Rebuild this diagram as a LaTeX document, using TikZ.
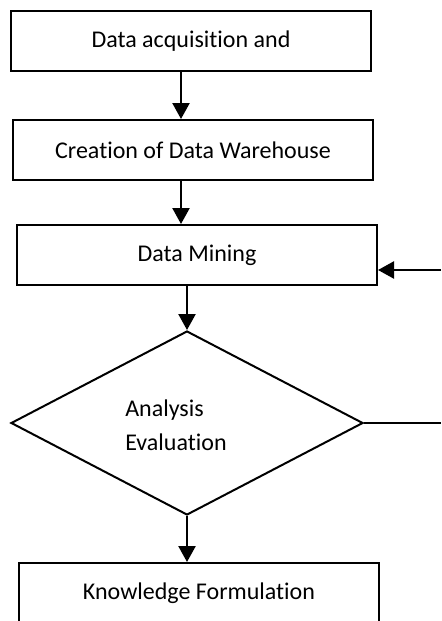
\documentclass[tikz,border=0pt]{standalone}
\usepackage{fontspec}
\setmainfont{Carlito}[Ligatures=NoCommon]
\usetikzlibrary{shapes.geometric,arrows.meta,positioning}

\begin{document}
\begin{tikzpicture}[x=0.5pt, y=-0.5pt,
  box/.style={rectangle, draw, line width=1pt, minimum width=180pt, minimum height=30pt},
  decision/.style={diamond, draw, line width=1pt, aspect=1.9, inner sep=0pt,
    minimum width=176pt, minimum height=92pt},
  arr/.style={-{Triangle[width=8.5pt,length=8pt]}, line width=1.2pt},
  node distance=54.5pt]
  \fontsize{12}{14.6}\selectfont
  \useasboundingbox (0,0) rectangle (441,621);
  \node[box] (acq) at (191,41) {Data acquisition and};
  \node[box, below of=acq, xshift=1pt] (dw) {Creation of Data Warehouse};
  \node[box, below of=dw, node distance=52.5pt, xshift=2pt] (dm) {Data Mining};
  \node[decision, below of=dm, node distance=84pt, xshift=-5pt] (eval)
    {\raisebox{-2.5pt}[\height][\depth]{\begin{tabular}{@{}l@{\hspace{11pt}}}Analysis\\[2.5pt]Evaluation\end{tabular}}};
  \node[box, below of=eval, node distance=85pt, xshift=6pt] (know) {Knowledge Formulation};
  \coordinate (fbin) at (441,270);
  \coordinate (fbout) at (441,423);

  \draw[arr] ([xshift=-5pt]acq.south) -- ([xshift=-5pt]acq.south |- dw.north);
  \draw[arr] ([xshift=-6pt]dw.south) -- ([xshift=-6pt]dw.south |- dm.north);
  \draw[arr] (eval.north |- dm.south) -- (eval.north);
  \draw[arr] (eval.south) -- (eval.south |- know.north);

  \draw[arr] (fbin) -- (fbin -| dm.east);
  \draw[line width=1pt] (eval.east) -- (eval.east -| fbout);
\end{tikzpicture}
\end{document}
